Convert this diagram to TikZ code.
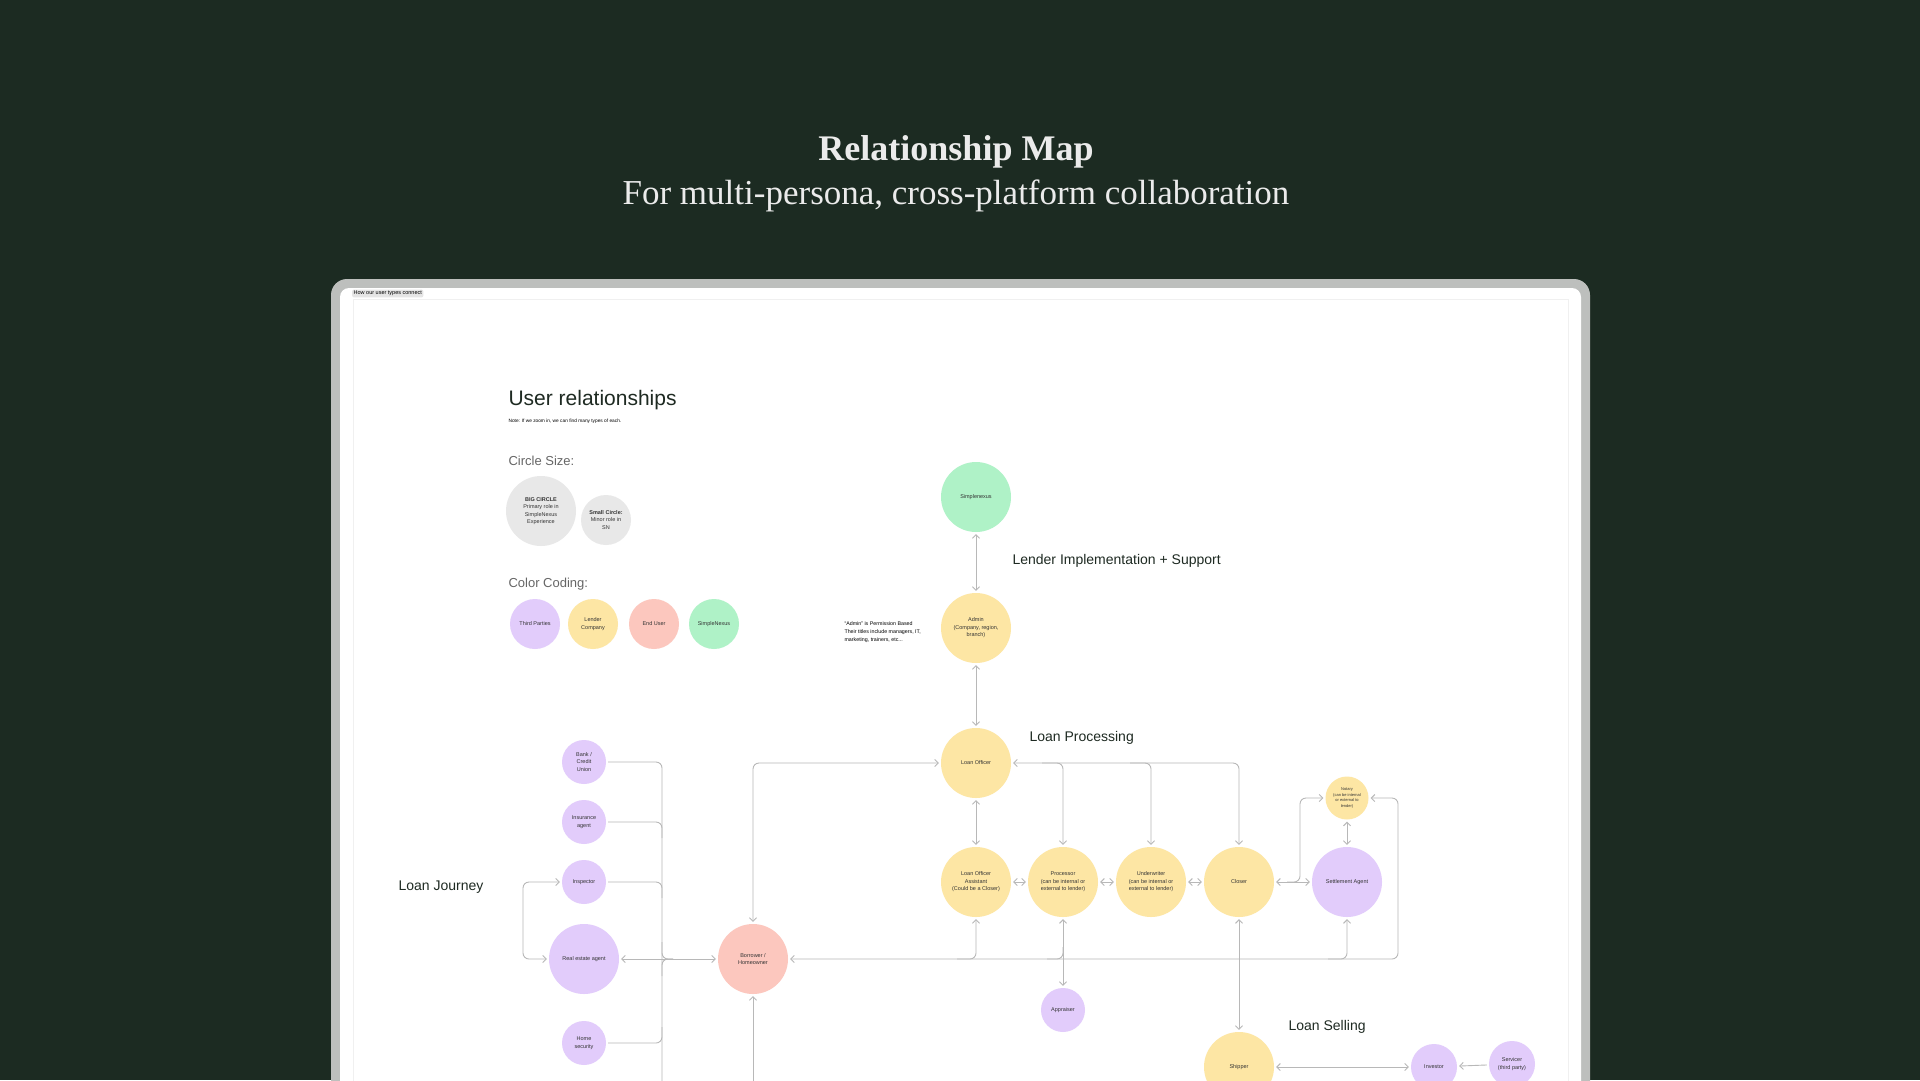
\documentclass[tikz,border=0pt]{standalone}
\usepackage{fontspec}
\setmainfont{Liberation Sans}
\newfontfamily\titlefont{Liberation Serif}
\usetikzlibrary{arrows.meta}
\definecolor{bgg}{HTML}{1C2B22}
\definecolor{frameg}{HTML}{BDBFBD}
\definecolor{cpur}{HTML}{E2CCFB}
\definecolor{cyel}{HTML}{FDE6A4}
\definecolor{cred}{HTML}{FCC7BE}
\definecolor{cgrn}{HTML}{AFF2C7}
\definecolor{cgry}{HTML}{E8E8E8}
\definecolor{lineg}{HTML}{B8B8B8}
\definecolor{txt}{HTML}{1E2A22}
\tikzset{
  circ/.style={circle,inner sep=0pt,align=center,font=\fontsize{5.5}{7.5}\selectfont,text=black!80},
  bigc/.style={circ,minimum size=70pt},
  smallc/.style={circ,minimum size=44pt},
  pur/.style={fill=cpur},yel/.style={fill=cyel},red/.style={fill=cred},grn/.style={fill=cgrn},gry/.style={fill=cgry},
  conn/.style={draw=lineg,line width=0.9pt,rounded corners=6pt,shorten <=2pt,shorten >=2pt},
  tips/.style={arrows={Straight Barb[length=3.5pt,width=7pt]-Straight Barb[length=3.5pt,width=7pt]}},
  tipe/.style={arrows={-Straight Barb[length=3.5pt,width=7pt]}},
  sect/.style={anchor=west,font=\fontsize{14}{16}\selectfont,text=txt},
}
\begin{document}
\begin{tikzpicture}[x=1pt,y=-1pt]
\useasboundingbox (0,0) rectangle (1920,1080);
\clip (0,0) rectangle (1920,1080);
\fill[bgg] (0,0) rectangle (1920,1080);
\node[font=\titlefont\bfseries\fontsize{36}{40}\selectfont,text=white!92!black] (t1) at (956,152) {Relationship Map};
\node[font=\titlefont\fontsize{35}{40}\selectfont,text=white!92!black] (t2) at (956,196) {For multi-persona, cross-platform collaboration};
% frame
\fill[frameg,rounded corners=16pt] (331,279) rectangle (1590,1120);
\fill[white,rounded corners=9pt] (340,288) rectangle (1581,1120);
\draw[black!6,line width=0.8pt] (353,299) rectangle (1568,1120);
\node[fill=black!10,rounded corners=2pt,inner sep=1.5pt,font=\fontsize{5.5}{6}\selectfont,anchor=west] (tab) at (352,293.5) {How our user types connect};
% header texts
\node[anchor=west,font=\fontsize{21}{24}\selectfont,text=txt] (ur) at (505,400) {User relationships};
\node[anchor=west,font=\fontsize{4.8}{6}\selectfont] (note) at (505,421) {Note: If we zoom in, we can find many types of each.};
\node[anchor=west,font=\fontsize{13}{15}\selectfont,text=black!60] (cs) at (505,461) {Circle Size:};
\node[circ,gry,minimum size=70pt] (bigc) at (541,511) {\textbf{BIG CIRCLE}\\Primary role in\\SimpleNexus\\Experience};
\node[circ,gry,minimum size=50pt] (smc) at (606,520) {\textbf{Small Circle:}\\Minor role in\\SN};
\node[anchor=west,font=\fontsize{13}{15}\selectfont,text=black!60] (cc) at (505,584) {Color Coding:};
\node[circ,pur,minimum size=50pt] (k1) at (535,624) {Third Parties};
\node[circ,yel,minimum size=50pt] (k2) at (593,624) {Lender\\Company};
\node[circ,red,minimum size=50pt] (k3) at (654,624) {End User};
\node[circ,grn,minimum size=50pt] (k4) at (714,624) {SimpleNexus};
\node[anchor=west,align=left,font=\fontsize{5.3}{8}\selectfont] (adnote) at (841,632) {``Admin'' is Permission Based\\Their titles include managers, IT,\\marketing, trainers, etc...};
% section labels
\node[sect] (l1) at (1009,561) {Lender Implementation + Support};
\node[sect] (l2) at (1026,738) {Loan Processing};
\node[sect] (l3) at (395,887) {Loan Journey};
\node[sect] (l4) at (1285,1027) {Loan Selling};
% nodes
\node[bigc,grn] (sn) at (976,497) {Simplenexus};
\node[bigc,yel] (admin) at (976,628) {Admin\\(Company, region,\\branch)};
\node[bigc,yel] (lo) at (976,763) {Loan Officer};
\node[bigc,yel] (loa) at (976,882) {Loan Officer\\Assistant\\(Could be a Closer)};
\node[bigc,yel] (proc) at (1063,882) {Processor\\(can be internal or\\external to lender)};
\node[bigc,yel] (uw) at (1151,882) {Underwriter\\(can be internal or\\external to lender)};
\node[bigc,yel] (closer) at (1239,882) {Closer};
\node[bigc,pur] (sa) at (1347,882) {Settlement Agent};
\node[circ,yel,minimum size=43pt,font=\fontsize{4}{5.5}\selectfont] (notary) at (1347,798) {Notary\\(can be internal\\or external to\\lender)};
\node[smallc,pur] (appr) at (1063,1010) {Appraiser};
\node[bigc,yel] (ship) at (1239,1067) {Shipper};
\node[circ,pur,minimum size=46pt] (inv) at (1434,1067) {Investor};
\node[circ,pur,minimum size=46pt] (serv) at (1512,1064) {Servicer\\(third party)};
\node[bigc,red] (borr) at (753,959) {Borrower /\\Homeowner};
\node[smallc,pur] (bank) at (584,762) {Bank /\\Credit\\Union};
\node[smallc,pur] (ins) at (584,822) {Insurance\\agent};
\node[smallc,pur] (insp) at (584,882) {Inspector};
\node[bigc,pur] (re) at (584,959) {Real estate agent};
\node[smallc,pur] (home) at (584,1043) {Home\\security};
\coordinate (bbot) at (753,1095);
\coordinate (trunkbot) at (662,1095);
% connectors
\draw[conn,tips] (sn) -- (admin);
\draw[conn,tips] (admin) -- (lo);
\draw[conn,tips] (lo) -- (loa);
\draw[conn,tips] (loa) -- (proc);
\draw[conn,tips] (proc) -- (uw);
\draw[conn,tips] (uw) -- (closer);
\draw[conn,tips] (closer) -- (sa);
\draw[conn,tips] (notary) -- (sa);
\draw[conn,tipe] (1285,882) -- (1300,882) -- (1300,798) -- (notary.west);
\draw[conn,tips] (lo.east) -- (1239,763) -- (closer.north);
\draw[conn,tipe] (1040,763) -- (1063,763) -- (proc.north);
\draw[conn,tipe] (1128,763) -- (1151,763) -- (uw.north);
\draw[conn,tips] (borr.east) -- (1398,959) -- (1398,798) -- (notary.east);
\draw[conn,tipe] (955,959) -- (976,959) -- (loa.south);
\draw[conn,tipe] (1326,959) -- (1347,959) -- (sa.south);
\draw[conn,tips] (proc) -- (appr);
\draw[conn] (1045,959) -- (1063,959) -- (1063,945);
\draw[conn,tips] (closer) -- (ship);
\draw[conn,tips] (ship) -- (inv);
\draw[conn,tipe] (serv) -- (inv);
\draw[conn,tips] (lo.west) -- (753,763) -- (borr.north);
\draw[conn,tipe] (bbot) -- (borr.south);
\draw[conn] (bank.east) -- (662,762) -- (trunkbot);
\draw[conn] (ins.east) -- (662,822) -- (662,840);
\draw[conn] (insp.east) -- (662,882) -- (662,900);
\draw[conn] (home.east) -- (662,1043) -- (662,1025);
\draw[conn] (662,940) -- (662,959) -- (675,959);
\draw[conn] (662,978) -- (662,959) -- (675,959);
\draw[conn,tips] (re.east) -- (borr.west);
\draw[conn,tips] (insp.west) -- (523,882) -- (523,959) -- (re.west);
\end{tikzpicture}
\end{document}
